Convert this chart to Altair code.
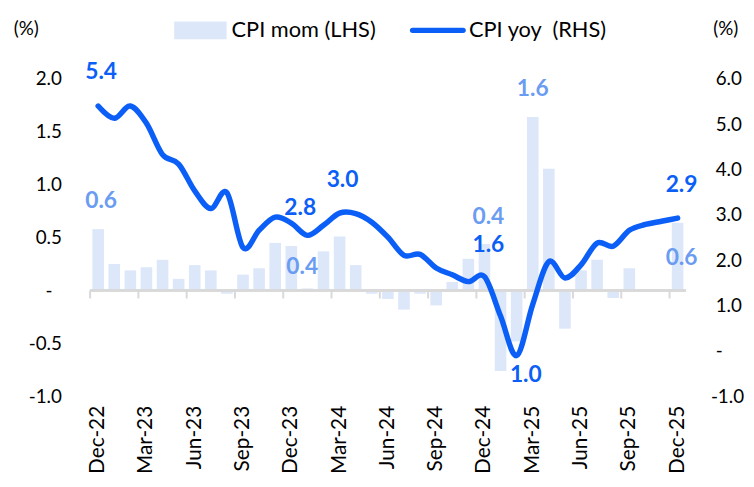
import altair as alt
import pandas as pd

months = ["Dec-22",
          "Jan-23", "Feb-23", "Mar-23", "Apr-23", "May-23", "Jun-23",
          "Jul-23", "Aug-23", "Sep-23", "Oct-23", "Nov-23", "Dec-23",
          "Jan-24", "Feb-24", "Mar-24", "Apr-24", "May-24", "Jun-24",
          "Jul-24", "Aug-24", "Sep-24", "Oct-24", "Nov-24", "Dec-24",
          "Jan-25", "Feb-25", "Mar-25", "Apr-25", "May-25", "Jun-25",
          "Jul-25", "Aug-25", "Sep-25", "Oct-25", "Nov-25", "Dec-25"]

cpi_mom = [0.58,
           0.25, 0.19, 0.22, 0.29, 0.11, 0.24, 0.19, -0.03, 0.15, 0.21, 0.45, 0.42,
           0.02, 0.37, 0.51, 0.24, -0.03, -0.08, -0.18, -0.03, -0.14, 0.08, 0.30, 0.44,
           -0.76, -0.48, 1.64, 1.15, -0.36, 0.19, 0.29, -0.07, 0.21, None, None, 0.64]

cpi_yoy = [5.40,
           5.13, 5.40, 5.02, 4.33, 4.12, 3.53, 3.14, 3.49, 2.28, 2.66, 2.95, 2.82,
           2.55, 2.77, 3.04, 3.03, 2.84, 2.51, 2.11, 2.13, 1.83, 1.68, 1.53, 1.64,
           0.77, -0.10, 1.03, 1.97, 1.61, 1.90, 2.38, 2.31, 2.66, 2.79, 2.86, 2.93]

tick_months = months[::3]
left_ticks = [-1.0, -0.5, 0.0, 0.5, 1.0, 1.5, 2.0]
right_ticks = [-1.0, 0.0, 1.0, 2.0, 3.0, 4.0, 5.0, 6.0]

legend_labels = ["CPI mom (LHS)", "CPI yoy\u00a0 (RHS)"]

# labelled points: (month, offset x, offset y)
mom_labels = [("Dec-22", 3, -28), ("Dec-23", 11, 21), ("Dec-24", 4, -27),
              ("Mar-25", 0, -28), ("Dec-25", 4, 36)]
yoy_labels = [("Dec-22", 3, -34), ("Dec-23", 9, -15), ("Mar-24", 3, -33),
              ("Dec-24", 4, -32), ("Mar-25", -7, 72), ("Dec-25", 4, -33)]

df = pd.DataFrame({"month": months, "mom": cpi_mom, "yoy": cpi_yoy})

FONT = "Lato"
LINE_BLUE = "#0B5FF6"
BAR_FILL = "#DCE7FA"
BAR_LABEL = "#6A9CF2"
GRAY = "#D9D9D9"

xscale = alt.Scale(domain=months, paddingInner=0.28, paddingOuter=0.14)
lscale = alt.Scale(domain=[-1, 2], nice=False, zero=False)
rscale = alt.Scale(domain=[-1, 6], nice=False, zero=False)

x_axis = alt.Axis(values=tick_months, labelAngle=-90, domain=False,
                  ticks=False, labelPadding=9, labelFont=FONT,
                  labelFontSize=21, labelColor="#000000", grid=False)


def xenc(**kw):
    return alt.X("month:N", scale=xscale, sort=months, title=None, axis=x_axis, **kw)


ZW = "\u200b"
left_expr = ("datum.value == 0 ? '-\u2002" + ZW + "' : "
             "replace(format(datum.value, '.1f'), '\u2212', '-')")
right_expr = ("datum.value < 0 ? replace(format(datum.value, '.1f'), '\u2212', '-') : "
              "(datum.value == 0 ? '" + ZW + "\u00a0-' : '" + ZW + "\u00a0' + format(datum.value, '.1f'))")

base = alt.Chart(df)

bars = base.mark_bar(color=BAR_FILL).encode(
    x=xenc(),
    y=alt.Y("mom:Q", scale=lscale, title="(%)",
            axis=alt.Axis(values=left_ticks, orient="left", labelExpr=left_expr,
                          domain=False, ticks=False, labelPadding=29,
                          grid=False, labelFont=FONT, labelFontSize=19,
                          labelColor="#000000", titleAngle=0, titleX=-65, titleY=-51,
                          titleAlign="center", titleBaseline="middle", titleFont=FONT,
                          titleFontSize=19, titleFontWeight="normal", titleColor="#000000")),
)

zero_line = base.mark_rule(color=GRAY, strokeWidth=2).encode(
    y=alt.Y(datum=0, scale=lscale, axis=None)
)

ticks = base.transform_filter(
    alt.FieldOneOfPredicate(field="month", oneOf=tick_months)
).mark_rule(color=GRAY, strokeWidth=2, xOffset=-2.3).encode(
    x=xenc(bandPosition=0),
    y=alt.Y(datum=0, scale=lscale, axis=None),
    y2=alt.Y2(datum=-0.075),
)

mom_text_layers = []
for m, dx, dy in mom_labels:
    mom_text_layers.append(
        base.transform_filter(alt.datum.month == m).mark_text(
            font=FONT, fontSize=23, fontWeight="bold", color=BAR_LABEL,
            dx=dx, dy=dy, align="center", baseline="middle"
        ).encode(
            x=xenc(),
            y=alt.Y("mom:Q", scale=lscale, axis=None),
            text=alt.Text("mom:Q", format=".1f"),
        )
    )

line = base.mark_line(color=LINE_BLUE, strokeWidth=5.5, interpolate="cardinal",
                      strokeCap="round", strokeJoin="round").encode(
    x=xenc(),
    y=alt.Y("yoy:Q", scale=rscale, title="(%)",
            axis=alt.Axis(values=right_ticks, orient="right", labelExpr=right_expr,
                          domain=False, ticks=False, labelPadding=25,
                          grid=False, labelFont=FONT, labelFontSize=19,
                          labelColor="#000000", titleAngle=0, titleX=40, titleY=-51,
                          titleAlign="center", titleBaseline="middle", titleFont=FONT,
                          titleFontSize=19, titleFontWeight="normal", titleColor="#000000")),
)

yoy_text_layers = []
for m, dx, dy in yoy_labels:
    yoy_text_layers.append(
        base.transform_filter(alt.datum.month == m).mark_text(
            font=FONT, fontSize=23, fontWeight="bold", color=LINE_BLUE,
            dx=dx, dy=dy, align="center", baseline="middle"
        ).encode(
            x=xenc(),
            y=alt.Y("yoy:Q", scale=rscale, axis=None),
            text=alt.Text("yoy:Q", format=".1f"),
        )
    )

# manual legend
one = alt.Data(values=[{}])
leg_rect = alt.Chart(one).mark_rect(color=BAR_FILL).encode(
    x=alt.value(85), x2=alt.value(138), y=alt.value(-58), y2=alt.value(-40)
)
leg_line = alt.Chart(one).mark_rule(color=LINE_BLUE, strokeWidth=5.5, strokeCap="round").encode(
    x=alt.value(326), x2=alt.value(377), y=alt.value(-49)
)
leg_t1 = alt.Chart(one).mark_text(font=FONT, fontSize=22, align="left",
                                  baseline="middle", color="#000000").encode(
    x=alt.value(143), y=alt.value(-49), text=alt.value(legend_labels[0])
)
leg_t2 = alt.Chart(one).mark_text(font=FONT, fontSize=22, align="left",
                                  baseline="middle", color="#000000").encode(
    x=alt.value(383), y=alt.value(-49), text=alt.value(legend_labels[1])
)

chart = alt.layer(
    bars, zero_line, ticks, *mom_text_layers, line, *yoy_text_layers,
    leg_rect, leg_line, leg_t1, leg_t2
).resolve_scale(y="independent").properties(
    width=602, height=321,
    autosize=alt.AutoSizeParams(type="none"),
    padding={"left": 83, "top": 69, "right": 61, "bottom": 89},
).configure(background="white").configure_view(stroke=None)

chart.save("out.html", embed_options={"renderer": "svg", "actions": False})
